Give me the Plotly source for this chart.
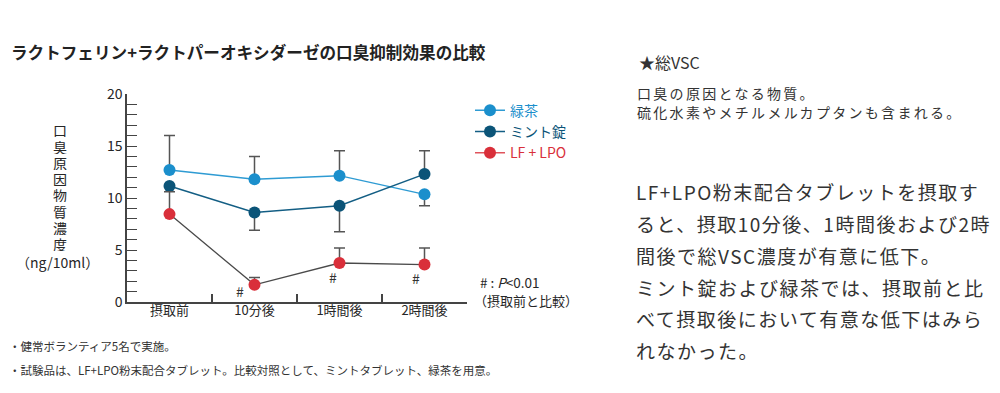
import plotly.graph_objects as go

# ---------------- data ----------------
categories = ["摂取前", "10分後", "1時間後", "2時間後"]
series_names = ["緑茶", "ミント錠", "LF + LPO"]

green_tea = [12.7, 11.8, 12.15, 10.35]
green_tea_err_plus = [3.3, 2.2, 2.4, 0]
green_tea_err_minus = [0, 0, 0, 1.1]

mint = [11.15, 8.6, 9.25, 12.3]
mint_err_plus = [0, 0, 0, 2.25]
mint_err_minus = [0, 1.7, 2.5, 0]

lf_lpo = [8.45, 1.65, 3.75, 3.6]
lf_lpo_err_plus = [2.15, 0.7, 1.45, 1.6]
lf_lpo_err_minus = [0, 0, 0, 0]

sig_marks = ["", "#", "#", "#"]
y_ticks = [0, 5, 10, 15, 20]

# ---------------- style ----------------
C_GREEN = "#1b8fcc"
C_MINT = "#0b5478"
C_RED = "#d92f3a"
C_GREYLINE = "#4a4a4a"
C_ERR = "#555555"
C_TEXT = "#262626"
FONT = "Noto Sans CJK JP"

W, H = 1000, 393
L, R, T, B = 127, 467, 94.3, 301.7


def px(x):
    return (x - L) / (R - L)


def py(y):
    return (B - y) / (B - T)


fig = go.Figure()


def err(plus, minus):
    return dict(type="data", symmetric=False, array=plus, arrayminus=minus,
                color=C_ERR, thickness=1.5, width=5.5)


fig.add_trace(go.Scatter(x=categories, y=green_tea, mode="lines+markers",
                         line=dict(color="#2e9bd3", width=1.5),
                         marker=dict(color=C_GREEN, size=12),
                         error_y=err(green_tea_err_plus, green_tea_err_minus),
                         showlegend=False, hoverinfo="x+y"))
fig.add_trace(go.Scatter(x=categories, y=mint, mode="lines+markers",
                         line=dict(color="#135e84", width=1.5),
                         marker=dict(color=C_MINT, size=12),
                         error_y=err(mint_err_plus, mint_err_minus),
                         showlegend=False, hoverinfo="x+y"))
fig.add_trace(go.Scatter(x=categories, y=lf_lpo, mode="lines+markers",
                         line=dict(color=C_GREYLINE, width=1.3),
                         marker=dict(color=C_RED, size=12),
                         error_y=err(lf_lpo_err_plus, lf_lpo_err_minus),
                         showlegend=False, hoverinfo="x+y"))

# legend entries
for name, lc, mc in [(series_names[0], "#2e9bd3", C_GREEN),
                     (series_names[1], "#135e84", C_MINT),
                     (series_names[2], "#e0545c", C_RED)]:
    fig.add_trace(go.Scatter(x=[None], y=[None], mode="lines+markers",
                             line=dict(color=lc, width=1.5),
                             marker=dict(color=mc, size=12),
                             name=f"<span style='color:{mc}'>{name}</span>"))

ann = []
# significance marks (pixel offsets from the LF+LPO points)
sig_shift = [(0, 0), (-15, -6), (-7, -14), (-9, -13)]
for i, m in enumerate(sig_marks):
    if m:
        ann.append(dict(x=categories[i], y=lf_lpo[i], xref="x", yref="y", text=m,
                        showarrow=False, xshift=sig_shift[i][0], yshift=sig_shift[i][1],
                        font=dict(family=FONT, size=14, color="#333")))

# y title (vertical, one glyph per row)
ytitle = "口臭原因物質濃度"
for k, ch in enumerate(ytitle):
    ann.append(dict(x=px(60), y=py(130 + k * 16.2), xref="paper", yref="paper",
                    text=ch, showarrow=False, xanchor="center", yanchor="middle",
                    height=15, borderpad=0, valign="middle",
                    font=dict(family=FONT, size=14, color=C_TEXT)))
ann.append(dict(x=px(57), y=py(262), xref="paper", yref="paper",
                text="（ng/10ml）", showarrow=False, xanchor="center", yanchor="middle",
                font=dict(family=FONT, size=14, color=C_TEXT)))

# p note
ann.append(dict(x=px(478), y=py(282), xref="paper", yref="paper",
                text="# : <i>P</i>&lt;0.01", showarrow=False, xanchor="left", yanchor="middle",
                font=dict(family=FONT, size=13.5, color=C_TEXT)))
ann.append(dict(x=px(472), y=py(300.5), xref="paper", yref="paper",
                text="（摂取前と比較）", showarrow=False, xanchor="left", yanchor="middle",
                font=dict(family=FONT, size=13, color=C_TEXT)))

# title
ann.append(dict(x=px(9), y=py(52), xref="paper", yref="paper",
                text="<b>ラクトフェリン+ラクトパーオキシダーゼの口臭抑制効果の比較</b>",
                showarrow=False, xanchor="left", yanchor="middle",
                font=dict(family=FONT, size=16.6, color="#222")))

# footnotes
for txt, yy in [("・健常ボランティア5名で実施。", 346),
                ("・試験品は、LF+LPO粉末配合タブレット。比較対照として、ミントタブレット、緑茶を用意。", 370)]:
    ann.append(dict(x=px(7), y=py(yy), xref="paper", yref="paper", text=txt,
                    showarrow=False, xanchor="left", yanchor="middle",
                    font=dict(family=FONT, size=11.5, color="#333")))

# right side notes
ann.append(dict(x=px(637), y=py(62), xref="paper", yref="paper", text="★総VSC",
                showarrow=False, xanchor="left", yanchor="middle",
                font=dict(family=FONT, size=16, color="#333")))
for txt, yy in [("口臭の原因となる物質。", 93.5), ("硫化水素やメチルメルカプタンも含まれる。", 112)]:
    ann.append(dict(x=px(635), y=py(yy), xref="paper", yref="paper",
                    text=f"<span style='letter-spacing:2.3px'>{txt}</span>",
                    showarrow=False, xanchor="left", yanchor="middle",
                    font=dict(family=FONT, size=14, color="#333")))

para = ["LF+LPO粉末配合タブレットを摂取す",
        "ると、摂取10分後、1時間後および2時",
        "間後で総VSC濃度が有意に低下。",
        "ミント錠および緑茶では、摂取前と比",
        "べて摂取後において有意な低下はみら",
        "れなかった。"]
for k, txt in enumerate(para):
    ann.append(dict(x=px(634), y=py(191.7 + k * 31.7), xref="paper", yref="paper",
                    text=f"<span style='letter-spacing:1.5px'>{txt}</span>",
                    showarrow=False, xanchor="left", yanchor="middle",
                    font=dict(family=FONT, size=19, color="#333")))

fig.update_layout(
    width=W, height=H,
    margin=dict(l=L, r=W - R, t=T, b=H - B, pad=0),
    paper_bgcolor="white", plot_bgcolor="white",
    font=dict(family=FONT, color=C_TEXT),
    annotations=ann,
    legend=dict(x=px(470), y=py(95), xanchor="left", yanchor="top",
                font=dict(family=FONT, size=14), itemwidth=30,
                bgcolor="rgba(0,0,0,0)", tracegroupgap=0),
    xaxis=dict(type="category", range=[-0.5, 3.5], showgrid=False, zeroline=False,
               showline=True, linecolor="#444", linewidth=1.5,
               ticks="inside", ticklen=8, tickwidth=1.5, tickcolor="#444",
               tickson="boundaries", ticklabelstandoff=-4,
               tickfont=dict(family=FONT, size=13, color=C_TEXT)),
    yaxis=dict(range=[0, 20], showgrid=False, zeroline=False,
               showline=True, linecolor="#444", linewidth=1.5,
               tickvals=y_ticks, ticks="inside", ticklen=10, tickwidth=1.3, tickcolor="#444",
               minor=dict(dtick=1, ticks="inside", ticklen=10, tickwidth=1.3, tickcolor="#444"),
               tickfont=dict(family=FONT, size=14, color=C_TEXT)),
)

fig.write_html("out.html")
